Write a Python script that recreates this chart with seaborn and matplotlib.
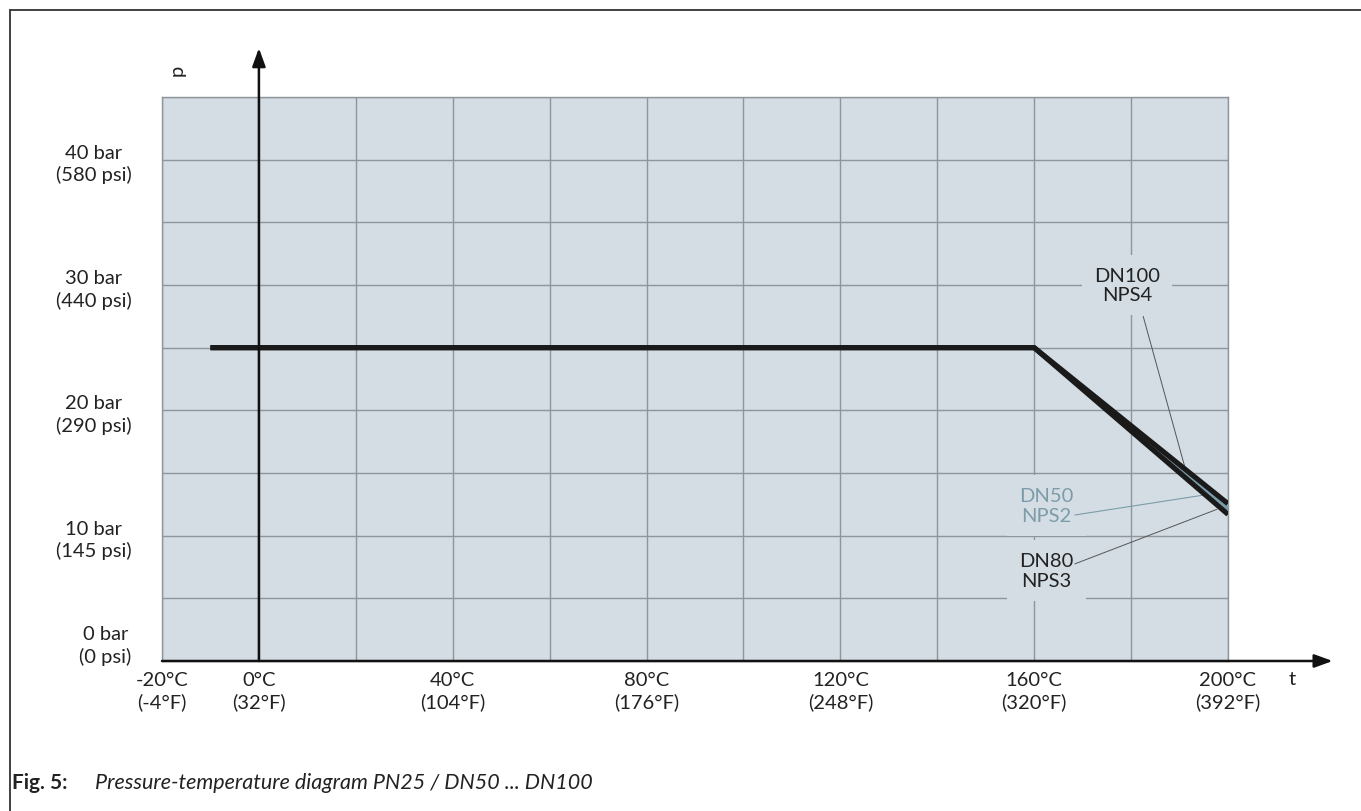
import matplotlib.pyplot as plt
import matplotlib.transforms as mtransforms
from matplotlib.lines import Line2D
from matplotlib.ticker import MultipleLocator
import pandas as pd
import seaborn as sns

# values
temp_c = [-10, 160, 200]
p_dn100 = [25, 25, 12.55]
p_dn50 = [25, 25, 12.1]
p_dn80 = [25, 25, 11.7]

x_ticks = [-20, 0, 40, 80, 120, 160, 200]
x_labels = ['-20°C\n(-4°F)', '0°C\n(32°F)', '40°C\n(104°F)', '80°C\n(176°F)',
            '120°C\n(248°F)', '160°C\n(320°F)', '200°C\n(392°F)']
y_ticks = [0, 10, 20, 30, 40]
y_labels = ['0 bar\n(0 psi)', '10 bar\n(145 psi)', '20 bar\n(290 psi)',
            '30 bar\n(440 psi)', '40 bar\n(580 psi)']

df = pd.DataFrame({
    't': temp_c * 3,
    'p': p_dn50 + p_dn100 + p_dn80,
    'size': ['DN50'] * 3 + ['DN100'] * 3 + ['DN80'] * 3,
})

sns.set_style('white')
plt.rcParams['font.family'] = ['Lato', 'DejaVu Sans']

BG = '#d4dde4'
GRID = '#8e959b'
BLUE = '#7d9caa'
INK = '#222222'
FS = 14.5

fig = plt.figure(figsize=(13.61, 8.12), dpi=100)
ax = fig.add_axes([162 / 1361, 1 - 662 / 812, 1066 / 1361, 564 / 812])
ax.set_facecolor(BG)

# blue line underneath, black ones over it
sns.lineplot(data=df[df['size'] == 'DN50'], x='t', y='p', color=BLUE,
             linewidth=3.5, ax=ax, solid_capstyle='butt', zorder=3)
for name in ['DN100', 'DN80']:
    sns.lineplot(data=df[df['size'] == name], x='t', y='p', color='#1a1a1a',
                 linewidth=3.7, ax=ax, solid_capstyle='butt', zorder=4)

ax.set_xlim(-20, 200)
ax.set_ylim(0, 45)
ax.set_xlabel('')
ax.set_ylabel('')

ax.set_xticks(x_ticks)
ax.set_xticklabels(x_labels, fontsize=FS, color=INK, linespacing=1.3)
ax.xaxis.set_minor_locator(MultipleLocator(20))
ax.set_yticks(y_ticks)
ax.set_yticklabels(y_labels, fontsize=FS, color=INK, linespacing=1.3)
ax.yaxis.set_minor_locator(MultipleLocator(5))
for lbl in ax.get_yticklabels():
    lbl.set_multialignment('center')
ax.tick_params(axis='both', which='both', length=0)
ax.tick_params(axis='x', pad=7)
ax.tick_params(axis='y', pad=22)
# the "0 bar" label sits a bit higher than the axis
lbl0 = ax.get_yticklabels()[0]
lbl0.set_transform(lbl0.get_transform() + mtransforms.ScaledTranslation(0, 0.2, fig.dpi_scale_trans))

ax.grid(True, which='both', color=GRID, linewidth=1.0)
ax.set_axisbelow(True)
for side in ['top', 'right', 'left', 'bottom']:
    ax.spines[side].set_color(GRID)
    ax.spines[side].set_linewidth(1.0)

# axis arrows
arrow = dict(arrowstyle='-|>,head_length=1.1,head_width=0.4',
             color='#111111', lw=1.8, shrinkA=0, shrinkB=0)
ax.annotate('', xy=(0, 48.9), xytext=(0, 0), arrowprops=arrow,
            annotation_clip=False, zorder=5)
ax.annotate('', xy=(221.6, 0), xytext=(-20, 0), arrowprops=arrow,
            annotation_clip=False, zorder=5)
ax.text(-16.9, 47.2, 'p', rotation=90, fontsize=FS, ha='center', va='center',
        color=INK, clip_on=False)
ax.text(213.2, -1.4, 't', fontsize=FS, ha='center', va='center',
        color=INK, clip_on=False)

# series labels with leader lines
box = dict(boxstyle='square,pad=0.6', facecolor=BG, edgecolor='none')
ax.text(179.2, 30.0, 'DN100\nNPS4', fontsize=FS, ha='center', va='center',
        color=INK, linespacing=1.2, bbox=box, zorder=2)
ax.plot([182.5, 191.0], [27.5, 15.6], color='#555555', lw=0.7, zorder=2)

ax.text(162.5, 12.4, 'DN50\nNPS2', fontsize=FS, ha='center', va='center',
        color=BLUE, linespacing=1.2, bbox=box, zorder=2)
ax.plot([168.4, 196.0], [11.65, 13.3], color=BLUE, lw=0.8, zorder=2)

ax.text(162.5, 7.2, 'DN80\nNPS3', fontsize=FS, ha='center', va='center',
        color=INK, linespacing=1.2, bbox=box, zorder=2)
ax.plot([168.4, 197.7], [7.75, 12.1], color='#555555', lw=0.7, zorder=2)

# page frame
fig.add_artist(Line2D([10 / 1361, 1], [1 - 11 / 812, 1 - 11 / 812],
                      color='#333333', lw=1.3))
fig.add_artist(Line2D([10 / 1361, 10 / 1361], [0, 1 - 11 / 812],
                      color='#333333', lw=1.3))

# caption
fig.text(12 / 1361, 1 - 783 / 812, 'Fig. 5:', fontsize=15, fontweight='bold',
         ha='left', va='center', color=INK)
fig.text(95 / 1361, 1 - 783 / 812, 'Pressure-temperature diagram PN25 / DN50 ... DN100',
         fontsize=15.5, style='italic', ha='left', va='center', color=INK)

fig.savefig('out.png', dpi=100, facecolor='white')
